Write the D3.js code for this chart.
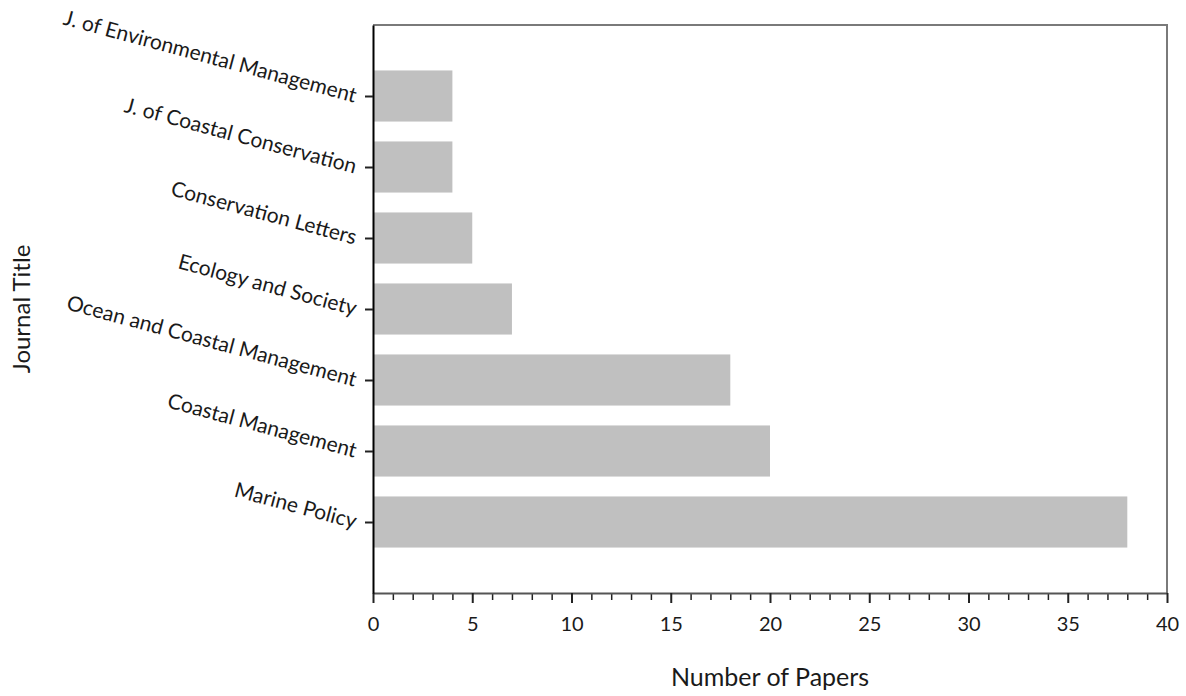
<!DOCTYPE html>
<html>
<head>
<meta charset="utf-8">
<script src="https://cdn.jsdelivr.net/npm/d3@7"></script>
<style>
  html, body { margin: 0; padding: 0; background: #fff; }
  svg { display: block; }
  text { font-family: Lato, "Open Sans", sans-serif; fill: #1a1a1a; }
</style>
</head>
<body>
<svg id="chart" width="1186" height="696"></svg>
<script>
// Journals and number of papers published in each
const categories = [
  "J. of Environmental Management",
  "J. of Coastal Conservation",
  "Conservation Letters",
  "Ecology and Society",
  "Ocean and Coastal Management",
  "Coastal Management",
  "Marine Policy"
];
const papers = [4, 4, 5, 7, 18, 20, 38];
const xMajorTicks = [0, 5, 10, 15, 20, 25, 30, 35, 40];
const xMinorTicks = d3.range(0, 41, 1).filter(v => v % 5 !== 0);

const W = 1186, H = 696;
const plot = { left: 373, right: 1167, top: 25, bottom: 593 };

const svg = d3.select("#chart");

const x = d3.scaleLinear().domain([0, 40]).range([plot.left, plot.right]);
const y = d3.scalePoint().domain(categories).range([plot.top, plot.bottom]).padding(1);
const barH = y.step() * 0.72;

// plot-area frame (top and right edges)
svg.append("path")
  .attr("d", `M${plot.left},${plot.top}H${plot.right}V${plot.bottom}`)
  .attr("fill", "none")
  .attr("stroke", "#7a7a7a")
  .attr("stroke-width", 2);

// bars
svg.append("g")
  .selectAll("rect")
  .data(categories)
  .join("rect")
  .attr("x", x(0))
  .attr("y", d => y(d) - barH / 2)
  .attr("width", (d, i) => x(papers[i]) - x(0))
  .attr("height", barH)
  .attr("fill", "#c0c0c0");

// minor x ticks
const gMinor = svg.append("g")
  .attr("transform", `translate(0,${plot.bottom})`)
  .call(d3.axisBottom(x).tickValues(xMinorTicks).tickSize(7).tickFormat(""));
gMinor.select(".domain").remove();
gMinor.selectAll(".tick line").attr("stroke", "#222").attr("stroke-width", 1.5);

// major x ticks and labels
const gX = svg.append("g")
  .attr("transform", `translate(0,${plot.bottom})`)
  .call(d3.axisBottom(x).tickValues(xMajorTicks).tickSize(10).tickSizeOuter(0).tickPadding(14));
gX.select(".domain").attr("stroke", "#555").attr("stroke-width", 2);
gX.selectAll(".tick line").attr("stroke", "#222").attr("stroke-width", 2);
gX.selectAll(".tick text")
  .attr("font-size", 20)
  .attr("font-family", "Lato, sans-serif")
  .attr("fill", "#1a1a1a");

// y axis with slanted journal labels
const gY = svg.append("g")
  .attr("transform", `translate(${plot.left},0)`)
  .call(d3.axisLeft(y).tickSize(8).tickSizeOuter(0).tickFormat(""));
gY.select(".domain").attr("stroke", "#000").attr("stroke-width", 2);
gY.selectAll(".tick line").attr("stroke", "#222").attr("stroke-width", 2);
gY.selectAll(".tick")
  .append("text")
  .attr("transform", "translate(-17,0) rotate(15)")
  .attr("text-anchor", "end")
  .attr("dy", "0.3em")
  .attr("font-size", 21)
  .attr("font-family", "Lato, sans-serif")
  .attr("fill", "#1a1a1a")
  .text(d => d);

// axis titles
svg.append("text")
  .attr("x", (plot.left + plot.right) / 2)
  .attr("y", 686)
  .attr("text-anchor", "middle")
  .attr("font-size", 25)
  .text("Number of Papers");

svg.append("text")
  .attr("transform", `translate(30,${(plot.top + plot.bottom) / 2}) rotate(-90)`)
  .attr("text-anchor", "middle")
  .attr("font-size", 24)
  .text("Journal Title");
</script>
</body>
</html>
